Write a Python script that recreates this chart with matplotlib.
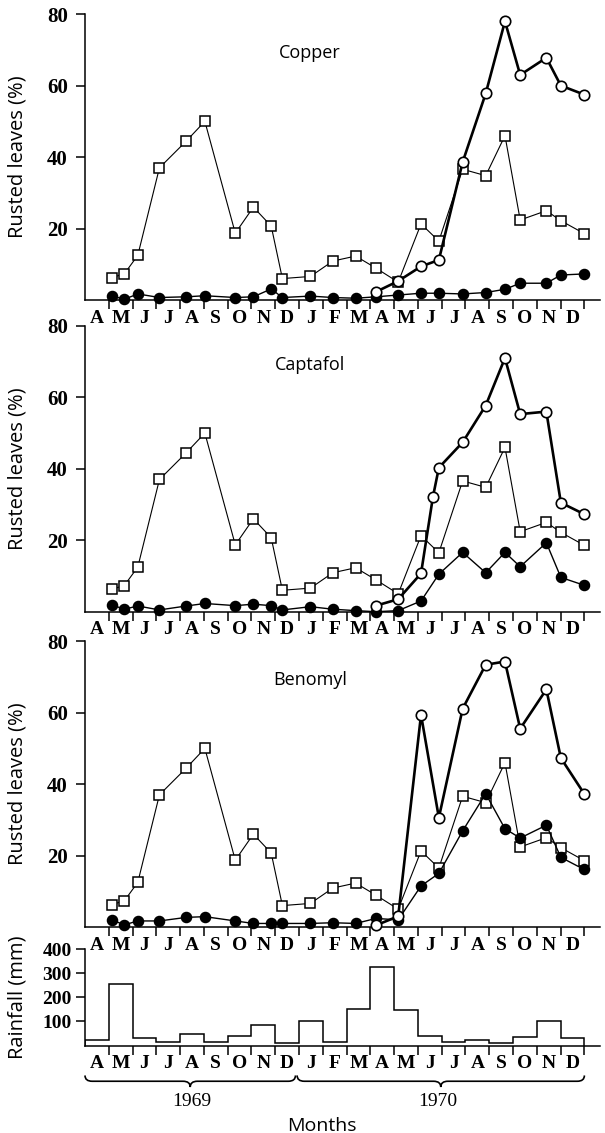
import numpy as np
import matplotlib
matplotlib.use("Agg")
import matplotlib.pyplot as plt
import matplotlib.transforms as mtransforms
from matplotlib.path import Path
from matplotlib.patches import PathPatch

plt.rcParams['font.family'] = 'Liberation Serif'

# month labels, Apr 1969 -> Dec 1970
months = list("AMJJASONDJFMAMJJASOND")

# sampling dates, in months after 1 April 1969
ctrl_x = [1.13, 1.65, 2.22, 3.13, 4.26, 5.04, 6.32, 7.08, 7.83, 8.30, 9.48, 10.42,
          11.38, 12.24, 13.17, 14.13, 14.88, 15.88, 16.85, 17.66, 18.30, 19.40, 20.01, 20.99]
# unsprayed (open squares), same in each panel
ctrl_y = [6.3, 7.3, 12.5, 37.0, 44.5, 50.0, 18.7, 26.0, 20.7, 6.0, 6.6, 10.9,
          12.3, 8.9, 5.0, 21.3, 16.5, 36.6, 34.8, 46.0, 22.4, 25.0, 22.2, 18.6]

# Copper
cu_open_x = [12.24, 13.17, 14.13, 14.88, 15.88, 16.85, 17.66, 18.30, 19.40, 20.01, 20.99]
cu_open_y = [2.3, 5.3, 9.4, 11.2, 38.6, 57.8, 78.0, 63.0, 67.8, 60.0, 57.5]
cu_fill_y = [1.2, 0.2, 1.7, 0.7, 0.9, 1.2, 0.7, 0.9, 3.1, 0.7, 1.1, 0.7,
             0.5, 0.9, 1.4, 1.9, 1.9, 1.7, 2.1, 3.0, 4.7, 4.7, 7.0, 7.3]

# Captafol
ca_open_x = [12.24, 13.17, 14.13, 14.63, 14.88, 15.88, 16.85, 17.66, 18.30, 19.40, 20.01, 20.99]
ca_open_y = [1.7, 3.5, 10.7, 32.1, 40.3, 47.4, 57.7, 71.0, 55.3, 56.0, 30.5, 27.3]
ca_fill_y = [1.9, 0.7, 1.6, 0.5, 1.6, 2.3, 1.7, 2.1, 1.7, 0.5, 1.4, 0.7,
             0.3, 0.0, 0.3, 3.0, 10.5, 16.6, 10.9, 16.6, 12.6, 19.3, 9.6, 7.4]

# Benomyl
be_open_x = [12.24, 13.17, 14.13, 14.88, 15.88, 16.85, 17.66, 18.30, 19.40, 20.01, 20.99]
be_open_y = [0.5, 3.0, 59.4, 30.6, 61.1, 73.4, 74.3, 55.5, 66.5, 47.3, 37.3]
be_fill_y = [2.0, 0.6, 1.7, 1.7, 2.7, 2.9, 1.7, 1.0, 1.0, 1.0, 1.0, 1.2,
             1.0, 2.4, 2.0, 11.5, 15.0, 26.9, 37.3, 27.5, 24.9, 28.5, 19.5, 16.1]

# monthly rainfall (mm)
rain = [21, 257, 30, 13, 47, 13, 40, 87, 12, 100, 13, 153,
        324, 148, 40, 13, 23, 12, 35, 100, 32]

panels = [
    ("Copper", cu_open_x, cu_open_y, cu_fill_y),
    ("Captafol", ca_open_x, ca_open_y, ca_fill_y),
    ("Benomyl", be_open_x, be_open_y, be_fill_y),
]

FS = 14
XMAX = 21.65
WORDS = ['Open Sans', 'DejaVu Sans']   # labels look like a flared sans


def month_axis(ax):
    ax.set_xlim(0, XMAX)
    ax.patch.set_visible(False)
    ax.spines['top'].set_visible(False)
    ax.spines['right'].set_visible(False)
    for s in ['left', 'bottom']:
        ax.spines[s].set_linewidth(1.1)
    ax.set_xticks(np.arange(1, 22))
    ax.set_xticklabels([])
    ax.set_xticks(np.arange(21) + 0.5, minor=True)
    ax.set_xticklabels(months, minor=True, fontweight='bold')
    ax.tick_params(axis='x', which='major', direction='out', length=6.5, width=1.1)
    ax.tick_params(axis='x', which='minor', length=0, pad=7, labelsize=FS)
    ax.tick_params(axis='y', direction='out', length=6.5, width=1.1, pad=6, labelsize=15)


fig = plt.figure(figsize=(6.05, 11.33), dpi=100)
left, width, h = 0.1405, 0.851, 0.2523
bottoms = [0.7352, 0.4601, 0.1818]

for (name, ox, oy, fy), b in zip(panels, bottoms):
    ax = fig.add_axes([left, b, width, h])
    month_axis(ax)
    ax.set_ylim(0, 80)
    ax.set_yticks([20, 40, 60, 80])
    ax.set_yticklabels(['20', '40', '60', '80'], fontweight='bold')
    ax.plot(ctrl_x, ctrl_y, color='black', lw=0.8, marker='s', ms=6.5,
            mfc='white', mec='black', mew=1.1, clip_on=False, zorder=3)
    ax.plot(ctrl_x, fy, color='black', lw=1.0, marker='o', ms=7.3,
            mfc='black', mec='black', clip_on=False, zorder=4)
    ax.plot(ox, oy, color='black', lw=1.9, marker='o', ms=7.5,
            mfc='white', mec='black', mew=1.2, clip_on=False, zorder=5)
    ax.text(9.45, 69, name, ha='center', va='center', fontsize=13, family=WORDS)
    ax.set_ylabel("Rusted leaves (%)", fontsize=14.5, family=WORDS)
    ax.yaxis.set_label_coords(-0.112, 0.5)

# rainfall
axr = fig.add_axes([left, 0.0772, width, 0.0852])
month_axis(axr)
axr.stairs(rain, np.arange(22), baseline=0, color='black', lw=1.1)
axr.set_ylim(0, 400)
axr.set_yticks([100, 200, 300, 400])
axr.set_yticklabels(['100', '200', '300', '400'], fontweight='bold')
axr.tick_params(axis='y', pad=3, labelsize=14)
axr.set_ylabel("Rainfall (mm)", fontsize=14.5, family=WORDS)
axr.yaxis.set_label_coords(-0.112, 0.5)

# year braces under the rainfall axis
trans = mtransforms.blended_transform_factory(axr.transData, axr.transAxes)


def brace(x0, x1, ytop=-0.31, ymid=-0.37, ybot=-0.43, d=0.3):
    xc = 0.5 * (x0 + x1)
    verts = [(x0, ytop), (x0, ymid), (x0 + d, ymid),
             (xc - d, ymid),
             (xc, ymid), (xc, ybot),
             (xc, ymid), (xc + d, ymid),
             (x1 - d, ymid),
             (x1, ymid), (x1, ytop)]
    codes = [Path.MOVETO, Path.CURVE3, Path.CURVE3,
             Path.LINETO,
             Path.CURVE3, Path.CURVE3,
             Path.CURVE3, Path.CURVE3,
             Path.LINETO,
             Path.CURVE3, Path.CURVE3]
    axr.add_patch(PathPatch(Path(verts, codes), fill=False, lw=1.2,
                            transform=trans, clip_on=False))


brace(0.0, 8.85)
brace(8.92, 21.0)
axr.text(4.5, -0.58, "1969", transform=trans, ha='center', va='center', fontsize=FS)
axr.text(14.85, -0.58, "1970", transform=trans, ha='center', va='center', fontsize=FS)
axr.text(9.95, -0.83, "Months", transform=trans, ha='center', va='center', fontsize=FS,
         family=WORDS)

fig.savefig("out.png", dpi=100)
